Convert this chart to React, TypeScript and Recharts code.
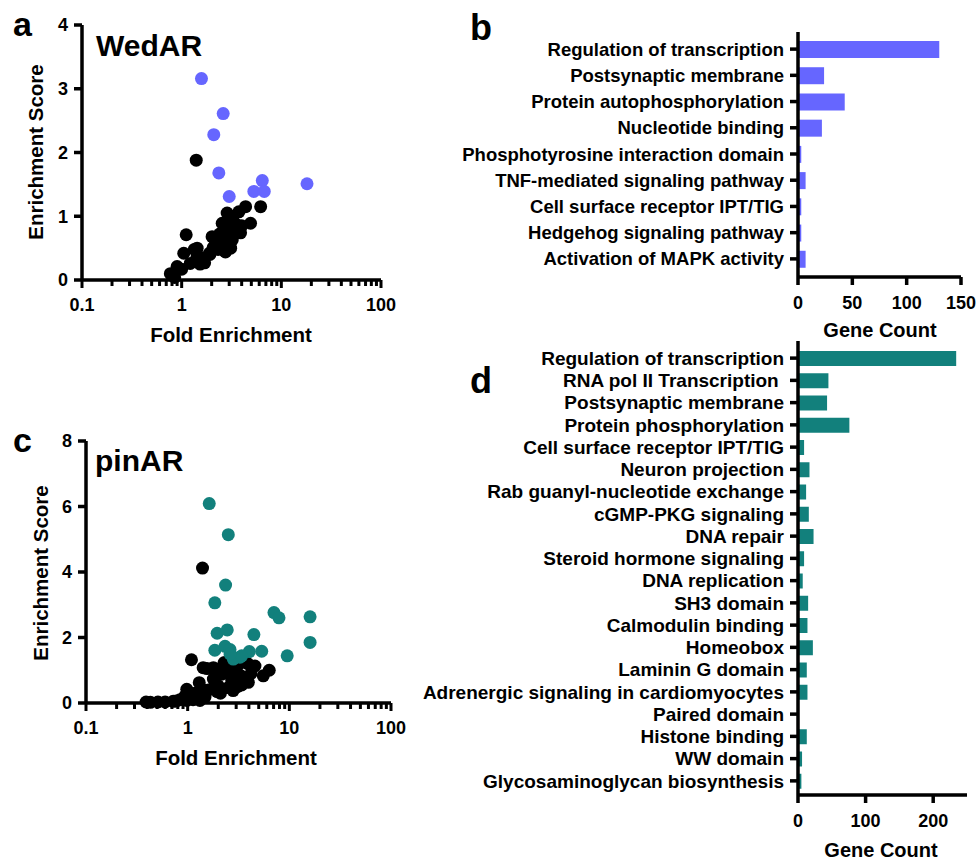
import React from 'react';
import { ScatterChart, Scatter, XAxis, YAxis, BarChart, Bar } from 'recharts';

const FONT = '"Liberation Sans", Arial, Helvetica, sans-serif';
const BLUE = '#6666FF';
const TEAL = '#12807C';
const BLACK = '#000000';

// ---- Log-axis ticks (fold enrichment) ----
const foldTicks = [
  0.1, 0.2, 0.3, 0.4, 0.5, 0.6, 0.7, 0.8, 0.9,
  1, 2, 3, 4, 5, 6, 7, 8, 9,
  10, 20, 30, 40, 50, 60, 70, 80, 90, 100,
];
const foldMajor = [0.1, 1, 10, 100];
const wedScoreTicks = [0, 1, 2, 3, 4];
const pinScoreTicks = [0, 2, 4, 6, 8];

// ---- Panel a: WedAR (fold enrichment, enrichment score) ----
const wedHighlighted: [number, number][] = [
  [1.58, 3.16], [2.61, 2.61], [2.10, 2.28], [2.36, 1.68], [3.0, 1.31],
  [5.3, 1.39], [6.44, 1.56], [6.74, 1.39], [18.1, 1.51],
];
const wedOther: [number, number][] = [
  [0.80, 0.09], [0.85, 0.04], [0.77, 0.10], [0.90, 0.21], [1.0, 0.17], [1.05, 0.42],
  [1.11, 0.71], [1.22, 0.26], [1.34, 0.48], [1.43, 0.50], [1.53, 0.25], [1.55, 0.29],
  [1.58, 0.35], [1.70, 0.27], [1.42, 0.35], [1.90, 0.42], [1.92, 0.40], [2.02, 0.68],
  [2.07, 0.51], [2.20, 0.60], [2.32, 0.48], [2.40, 0.72], [2.50, 0.55], [2.55, 0.89],
  [2.60, 0.64], [2.71, 0.46], [2.75, 0.44], [2.86, 1.05], [2.90, 0.78], [3.04, 0.61],
  [3.10, 0.50], [3.22, 0.63], [3.28, 0.93], [3.35, 0.72], [3.54, 0.87], [3.75, 1.07],
  [3.82, 0.77], [3.90, 0.74], [4.38, 1.15], [4.91, 0.89], [4.0, 0.85], [3.1, 1.0],
  [1.40, 1.88], [6.2, 1.15],
];

// ---- Panel c: pinAR ----
const pinHighlighted: [number, number][] = [
  [1.63, 6.09], [2.51, 5.14], [2.36, 3.60], [1.85, 3.06], [1.95, 2.13], [2.45, 2.23],
  [4.48, 2.09], [7.06, 2.76], [7.91, 2.60], [16.0, 2.63], [16.0, 1.85], [9.53, 1.44],
  [1.85, 1.61], [2.33, 1.73], [2.61, 1.63], [3.27, 1.40], [4.04, 1.57], [5.35, 1.58],
  [2.81, 1.34], [3.40, 1.44], [2.61, 1.50],
];
const pinOther: [number, number][] = [
  [0.39, 0.03], [0.43, 0.02], [0.51, 0.03], [0.60, 0.03], [0.72, 0.05], [0.77, 0.06],
  [0.84, 0.10], [0.94, 0.21], [0.98, 0.42], [0.98, 0.08], [1.09, 1.32], [1.13, 0.10],
  [1.18, 0.30], [1.27, 0.20], [1.30, 0.62], [1.32, 0.08], [1.42, 1.08], [1.42, 0.40],
  [1.48, 0.18], [1.55, 1.05], [1.60, 0.40], [1.79, 0.73], [1.79, 1.08], [1.90, 0.95],
  [1.95, 0.35], [2.0, 0.52], [2.1, 0.30], [2.16, 0.88], [2.27, 1.20], [2.30, 1.24],
  [2.51, 0.47], [2.60, 1.00], [2.71, 0.70], [2.80, 0.38], [2.80, 0.85], [2.92, 1.12],
  [3.08, 0.50], [3.10, 1.15], [3.27, 0.85], [3.40, 0.55], [3.66, 1.29], [3.90, 1.20],
  [3.95, 0.63], [4.20, 0.90], [4.59, 1.13], [5.54, 0.83], [6.34, 1.00], [1.40, 4.12],
];

// ---- Panel b: WedAR gene counts ----
const wedTerms = [
  'Regulation of transcription',
  'Postsynaptic membrane',
  'Protein autophosphorylation',
  'Nucleotide binding',
  'Phosphotyrosine interaction domain',
  'TNF-mediated signaling pathway',
  'Cell surface receptor IPT/TIG',
  'Hedgehog signaling pathway',
  'Activation of MAPK activity',
];
const wedCounts = [130, 24, 43, 22, 3, 7, 3, 3, 7];
const wedCountTicks = [0, 50, 100, 150];

// ---- Panel d: pinAR gene counts ----
const pinTerms = [
  'Regulation of transcription',
  'RNA pol II Transcription\u00A0',
  'Postsynaptic membrane',
  'Protein phosphorylation',
  'Cell surface receptor IPT/TIG',
  'Neuron projection',
  'Rab guanyl-nucleotide exchange',
  'cGMP-PKG signaling',
  'DNA repair',
  'Steroid hormone signaling',
  'DNA replication',
  'SH3 domain',
  'Calmodulin binding',
  'Homeobox',
  'Laminin G domain',
  'Adrenergic signaling in cardiomyocytes',
  'Paired domain',
  'Histone binding',
  'WW domain',
  'Glycosaminoglycan biosynthesis',
];
const pinCounts = [234, 45, 43, 76, 9, 17, 12, 16, 23, 9, 7, 15, 14, 22, 13, 14, 0, 13, 6, 5];
const pinCountTicks = [0, 100, 200];
const pinCountMax = 250;

const toPts = (arr: [number, number][]) => arr.map(([x, y]) => ({ x, y }));
const toBars = (names: string[], vals: number[]) => names.map((name, i) => ({ name, count: vals[i] }));

const axisLine = { stroke: BLACK, strokeWidth: 3.5 };
const tickLine = { stroke: BLACK, strokeWidth: 3.5 };
const tickText = { fill: BLACK, fontSize: 18, fontWeight: 700, fontFamily: FONT };

const LogTick = (props: any) => {
  const { x, y, payload } = props;
  const v = payload.value;
  const major = foldMajor.indexOf(v) >= 0;
  return (
    <g>
      <line x1={x} x2={x} y1={y} y2={y + (major ? 8 : 6)} stroke={BLACK} strokeWidth={3} />
      {major && (
        <text x={x} y={y + 31} textAnchor="middle" fontSize={18} fontWeight={700} fontFamily={FONT} fill={BLACK}>
          {String(v)}
        </text>
      )}
    </g>
  );
};

const dot = (color: string) => (p: any) => <circle cx={p.cx} cy={p.cy} r={6.5} fill={color} />;

type ScatterProps = {
  hi: [number, number][];
  other: [number, number][];
  color: string;
  yTicks: number[];
  width: number;
  height: number;
  margin: any;
  yWidth: number;
  xHeight: number;
};

const FoldScatter = ({ hi, other, color, yTicks, width, height, margin, yWidth, xHeight }: ScatterProps) => (
  <ScatterChart width={width} height={height} margin={margin}>
    <XAxis
      type="number"
      dataKey="x"
      scale="log"
      domain={[0.1, 100]}
      ticks={foldTicks}
      interval={0}
      allowDataOverflow
      axisLine={axisLine}
      tickLine={false}
      tickSize={0}
      tickMargin={0}
      tick={<LogTick />}
      height={xHeight}
    />
    <YAxis
      type="number"
      dataKey="y"
      domain={[yTicks[0], yTicks[yTicks.length - 1]]}
      ticks={yTicks}
      interval={0}
      axisLine={axisLine}
      tickLine={tickLine}
      tickSize={8}
      tickMargin={6}
      tick={tickText}
      width={yWidth}
    />
    <Scatter data={toPts(other)} shape={dot(BLACK)} isAnimationActive={false} />
    <Scatter data={toPts(hi)} shape={dot(color)} isAnimationActive={false} />
  </ScatterChart>
);

type BarProps = {
  names: string[];
  vals: number[];
  ticks: number[];
  max: number;
  color: string;
  width: number;
  height: number;
  margin: any;
  xHeight: number;
  barSize: number;
  pad: { top: number; bottom: number };
  catSize: number;
};

const TermBars = ({ names, vals, ticks, max, color, width, height, margin, xHeight, barSize, pad, catSize }: BarProps) => (
  <BarChart layout="vertical" width={width} height={height} margin={margin} data={toBars(names, vals)} barSize={barSize}>
    <XAxis
      type="number"
      dataKey="count"
      domain={[0, max]}
      ticks={ticks}
      interval={0}
      axisLine={axisLine}
      tickLine={tickLine}
      tickSize={8}
      tickMargin={11}
      tick={tickText}
      height={xHeight}
    />
    <YAxis
      type="category"
      dataKey="name"
      interval={0}
      axisLine={axisLine}
      tickLine={tickLine}
      tickSize={8}
      tickMargin={6}
      tick={{ fill: BLACK, fontSize: catSize, fontWeight: 700, fontFamily: FONT }}
      width={398}
      padding={pad}
    />
    <Bar dataKey="count" fill={color} isAnimationActive={false} />
  </BarChart>
);

const T = (p: any) => <text fontFamily={FONT} fontWeight={700} fill={BLACK} {...p} />;

export default function App() {
  return (
    <div style={{ position: 'absolute', left: 0, top: 0, width: 978, height: 860, background: '#fff', overflow: 'hidden' }}>
      <div style={{ position: 'absolute', left: 0, top: 0 }}>
        <FoldScatter
          hi={wedHighlighted}
          other={wedOther}
          color={BLUE}
          yTicks={wedScoreTicks}
          width={400}
          height={340}
          margin={{ top: 25, right: 19, left: 0, bottom: 0 }}
          yWidth={82}
          xHeight={60}
        />
      </div>
      <div style={{ position: 'absolute', left: 0, top: 420 }}>
        <FoldScatter
          hi={pinHighlighted}
          other={pinOther}
          color={TEAL}
          yTicks={pinScoreTicks}
          width={410}
          height={340}
          margin={{ top: 21, right: 19, left: 0, bottom: 0 }}
          yWidth={86}
          xHeight={57}
        />
      </div>
      <div style={{ position: 'absolute', left: 400, top: 0 }}>
        <TermBars
          names={wedTerms}
          vals={wedCounts}
          ticks={wedCountTicks}
          max={150}
          color={BLUE}
          width={578}
          height={345}
          margin={{ top: 32, right: 17, left: 0, bottom: 0 }}
          xHeight={68}
          barSize={17}
          pad={{ top: 4, bottom: 5 }}
          catSize={18.5}
        />
      </div>
      <div style={{ position: 'absolute', left: 400, top: 330 }}>
        <TermBars
          names={pinTerms}
          vals={pinCounts}
          ticks={pinCountTicks}
          max={pinCountMax}
          color={TEAL}
          width={578}
          height={530}
          margin={{ top: 11, right: 11, left: 0, bottom: 0 }}
          xHeight={65}
          barSize={15}
          pad={{ top: 6, bottom: 3 }}
          catSize={19}
        />
      </div>
      <svg width={978} height={860} style={{ position: 'absolute', left: 0, top: 0, pointerEvents: 'none' }}>
        <T x={13} y={36} fontSize={34}>a</T>
        <T x={96} y={56} fontSize={30}>WedAR</T>
        <T x={43} y={152} fontSize={20.5} textAnchor="middle" transform="rotate(-90 43 152)">Enrichment Score</T>
        <T x={231} y={342} fontSize={20.5} textAnchor="middle">Fold Enrichment</T>

        <T x={13} y={452} fontSize={34}>c</T>
        <T x={95} y={471} fontSize={30}>pinAR</T>
        <T x={48} y={573} fontSize={20.5} textAnchor="middle" transform="rotate(-90 48 573)">Enrichment Score</T>
        <T x={236} y={765} fontSize={20.5} textAnchor="middle">Fold Enrichment</T>

        <T x={470} y={40} fontSize={36}>b</T>
        <T x={880} y={337} fontSize={20} textAnchor="middle">Gene Count</T>

        <T x={470} y={393} fontSize={36}>d</T>
        <T x={881} y={857} fontSize={20} textAnchor="middle">Gene Count</T>
      </svg>
    </div>
  );
}
